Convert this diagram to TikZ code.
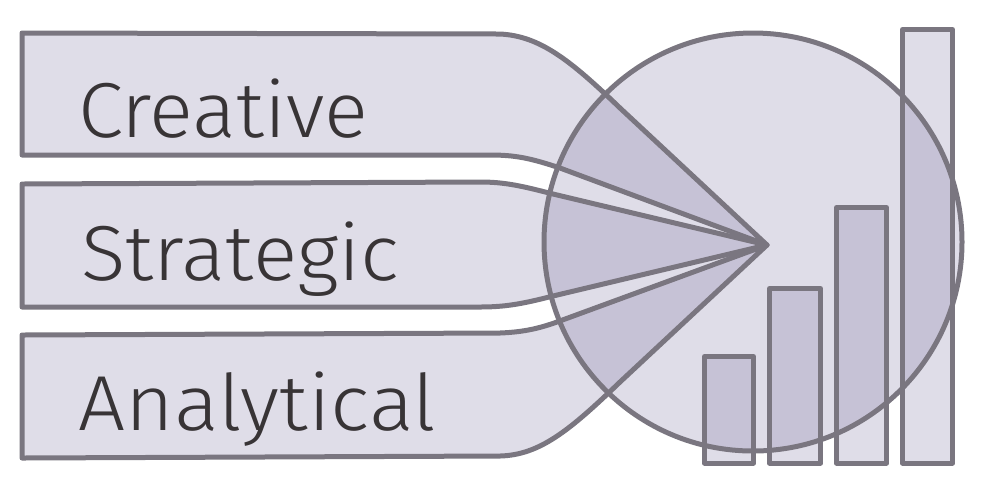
\documentclass[tikz,border=0pt]{standalone}
\usepackage{fontspec}
\setmainfont{Fira Sans Light}
\usepackage{graphicx}
\definecolor{ink}{HTML}{383436}
\definecolor{edge}{HTML}{7A7680}
\definecolor{tint}{RGB}{110,100,150}
\newbox\fitbox
\newcommand{\fitw}[2]{\setbox\fitbox\hbox{#2}\pgfmathsetmacro\fitsx{#1/\the\wd\fitbox}\scalebox{\fitsx}[1]{\box\fitbox}}
\tikzset{
  shapefill/.style={fill=tint, fill opacity=0.22},
  outline/.style={draw=edge, line width=2.5pt, line join=round},
  lbl/.style={anchor=base west, inner sep=0pt, text=ink, font=\fontsize{39}{39}\selectfont}
}
\begin{document}
\begin{tikzpicture}[x=0.5pt,y=-0.5pt]
\useasboundingbox (0,0) rectangle (1000,500);
\coordinate (apex) at (767,245);
% paths
\path[save path=\pcre] (22,33) -- (500,34) .. controls (540,36) and (570,60) .. (620,108) -- (apex)
   -- (560,168) .. controls (530,158) and (515,155) .. (490,155) -- (22,155) -- cycle;
\path[save path=\pstr] (22,184) -- (480,182) .. controls (505,182) and (522,186) .. (553,194) -- (apex)
   -- (553,296) .. controls (522,304) and (505,307) .. (480,307) -- (22,307) -- cycle;
\path[save path=\pana] (22,335) -- (500,333) .. controls (525,332) and (540,328) .. (557,322) -- (apex)
   -- (620,382) .. controls (570,430) and (540,455) .. (500,456) -- (22,458) -- cycle;
\path[save path=\pcirc] (753,242) circle[radius=209];
\path[save path=\pbara] (704.5,463) rectangle (753.5,356.5);
\path[save path=\pbarb] (769.5,463) rectangle (820.5,288.5);
\path[save path=\pbarc] (836.5,463) rectangle (886.5,207.5);
\path[save path=\pbard] (902.5,463) rectangle (952.5,29.5);
% fills
\fill[shapefill, use path=\pcre];
\fill[shapefill, use path=\pstr];
\fill[shapefill, use path=\pana];
\fill[shapefill, use path=\pcirc];
\fill[shapefill, use path=\pbara];
\fill[shapefill, use path=\pbarb];
\fill[shapefill, use path=\pbarc];
\fill[shapefill, use path=\pbard];
% outlines
\draw[outline, use path=\pcre];
\draw[outline, use path=\pstr];
\draw[outline, use path=\pana];
\draw[outline, use path=\pcirc];
\draw[outline, use path=\pbara];
\draw[outline, use path=\pbarb];
\draw[outline, use path=\pbarc];
\draw[outline, use path=\pbard];
% labels
\node[lbl] (creative) at (78,137) {\fitw{145}{Creative}};
\node[lbl] (strategic) at (81,280) {\fitw{159}{Strategic}};
\node[lbl] (analytical) at (78,430) {\fitw{179}{Analytical}};
\end{tikzpicture}
\end{document}
